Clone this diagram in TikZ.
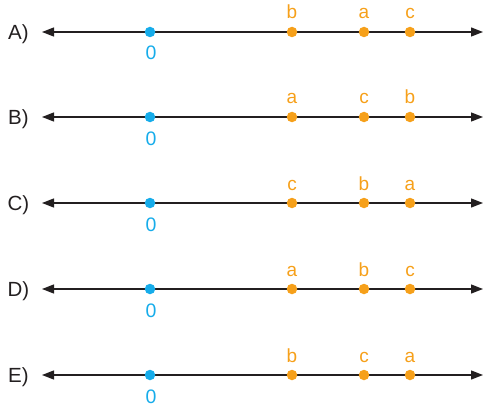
\documentclass[tikz,border=0pt]{standalone}
\usepackage{fontspec}
\setmainfont{Liberation Sans}
\usetikzlibrary{arrows.meta}
\definecolor{zblue}{HTML}{16ACEA}
\definecolor{dorange}{HTML}{F6A01A}
\definecolor{axisc}{HTML}{231F20}
\begin{document}
\begin{tikzpicture}[x=1pt,y=-1pt,
  rowlabel/.style={text=axisc,font=\fontsize{20.5}{20.5}\selectfont,inner sep=0pt},
  axisline/.style={axisc,line width=1.3pt,{Triangle[length=12pt,width=9pt]}-{Triangle[length=12pt,width=9pt]}},
  zdot/.style={circle,fill=zblue,inner sep=0pt,minimum size=10.5pt},
  odot/.style={circle,fill=dorange,inner sep=0pt,minimum size=10.5pt},
  zlab/.style={text=zblue,font=\fontsize{19.5}{19.5}\selectfont,inner sep=0pt,anchor=base},
  olab/.style={text=dorange,font=\fontsize{19}{19}\selectfont,inner sep=0pt,anchor=base}]
\useasboundingbox (0,0) rectangle (484,409);
\foreach \r/\yy/\la/\lb/\lc in {A/32/b/a/c, B/117/a/c/b, C/203/c/b/a, D/289/a/b/c, E/375/b/c/a}{
  \node[rowlabel] (lab\r) at (18.5,\yy+2) {\r)};
  \coordinate (L\r) at (42,\yy);
  \coordinate (R\r) at (483,\yy);
  \draw[axisline] (L\r) -- (R\r);
  \node[zdot] (z\r) at (150,\yy) {};
  \node[zlab] (zl\r) at (151,\yy+28) {0};
  \node[odot] (p1\r) at (292,\yy) {};
  \node[odot] (p2\r) at (364,\yy) {};
  \node[odot] (p3\r) at (410,\yy) {};
  \node[olab] (t1\r) at (292,\yy-13) {\la};
  \node[olab] (t2\r) at (364,\yy-13) {\lb};
  \node[olab] (t3\r) at (410,\yy-13) {\lc};
}
\end{tikzpicture}
\end{document}
